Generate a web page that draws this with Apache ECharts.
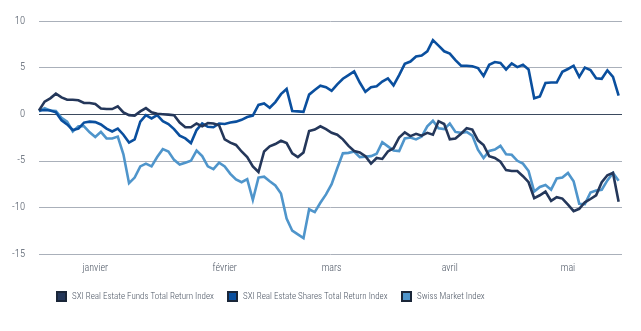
<!DOCTYPE html>
<html>
<head>
<meta charset="utf-8">
<script src="https://cdn.jsdelivr.net/npm/echarts@6/dist/echarts.min.js"></script>
<style>
  html, body { margin: 0; padding: 0; background: #fff; }
  #chart { width: 641px; height: 331px; }
</style>
</head>
<body>
<div id="chart"></div>
<script>
// Performance since start of year, in percent, one value per trading day
const fundsTR = [
  0.4, 1.35, 1.7, 2.2, 1.8, 1.55, 1.55, 1.5, 1.2, 1.2,
  1.1, 0.6, 0.55, 0.55, 0.85, 0.2, -0.1, -0.15, 0.3, 0.65,
  0.2, 0.05, 0, -0.05, -0.1, -0.9, -1.4, -1.4, -1.0, -1.3,
  -0.95, -1.0, -1.2, -2.7, -3.05, -3.3, -4.0, -4.6, -5.6, -6.2,
  -4.0, -3.45, -3.2, -2.85, -3.1, -4.2, -4.6, -4.1, -1.8, -1.65,
  -1.3, -1.6, -2.0, -2.2, -2.7, -3.4, -3.95, -4.1, -4.5, -5.3,
  -4.7, -4.8, -4.0, -3.65, -2.5, -1.95, -2.35, -2.1, -2.3, -2.0,
  -2.2, -0.75, -1.05, -2.7, -2.6, -2.1, -1.5, -1.65, -2.8, -3.3,
  -4.5, -4.7, -5.1, -6.0, -6.1, -6.1, -6.65, -7.3, -9.0, -8.7,
  -8.3, -9.3, -8.9, -9.05, -9.7, -10.4, -10.15, -9.45, -9.1, -8.7,
  -7.3, -6.55, -6.3, -9.4
];
const sharesTR = [
  0.4, 0.45, 0.4, 0.2, -0.65, -1.1, -1.7, -1.55, -0.9, -0.8,
  -0.85, -1.1, -1.55, -1.85, -1.55, -2.2, -3.05, -2.7, -0.8, -0.1,
  -0.45, -0.1, -0.75, -1.05, -1.6, -2.3, -2.6, -3.1, -1.7, -1.0,
  -1.35, -1.4, -1.0, -1.05, -0.9, -0.8, -0.6, -0.3, -0.15, 1.0,
  1.15, 0.7, 1.3, 2.15, 2.7, 0.35, 0.3, 0.25, 2.1, 2.6,
  3.05, 2.9, 2.5, 3.2, 3.8, 4.2, 4.6, 3.4, 2.4, 2.9,
  3.0, 3.5, 3.85, 3.1, 4.2, 5.4, 5.65, 6.2, 6.3, 6.75,
  7.95, 7.35, 6.75, 6.5, 5.8, 5.2, 5.2, 5.15, 4.95, 4.1,
  5.3, 5.6, 5.5, 4.8, 5.45, 5.05, 5.3, 4.8, 1.7, 1.9,
  3.35, 3.4, 3.4, 4.55, 4.85, 5.2, 4.0, 5.0, 4.75, 3.85,
  3.8, 4.7, 4.0, 2.0
];
const smi = [
  0.3, 0.65, 0.4, 0.35, -0.4, -0.8, -1.85, -1.3, -1.3, -1.95,
  -2.45, -1.9, -2.6, -2.6, -2.4, -4.3, -7.4, -6.8, -5.6, -5.3,
  -5.6, -4.6, -3.75, -4.0, -4.9, -5.4, -5.2, -5.0, -3.9, -4.5,
  -5.6, -5.9, -5.2, -5.6, -6.4, -7.0, -7.3, -6.97, -9.2, -6.8,
  -6.7, -7.2, -7.65, -8.5, -11.2, -12.5, -12.9, -13.3, -10.2, -10.5,
  -9.5, -8.6, -7.5, -5.8, -4.2, -4.15, -4.0, -4.6, -4.55, -4.5,
  -4.25, -3.0, -3.45, -3.9, -3.95, -2.6, -2.5, -2.7, -2.4, -1.3,
  -0.7, -1.5, -1.6, -1.0, -1.9, -2.0, -1.9, -2.3, -3.8, -4.7,
  -3.95, -3.8, -3.4, -4.3, -4.35, -5.0, -5.3, -6.1, -8.3, -7.8,
  -7.6, -8.1, -6.9, -6.8, -6.3, -7.2, -9.6, -9.65, -8.4, -8.2,
  -8.1, -7.1, -6.3, -7.15
];

// Month captions and the trading-day index each one sits on
const monthNames = ['janvier', 'février', 'mars', 'avril', 'mai'];
const monthTicks = [10, 33, 52, 73, 94];

const yTicks = { min: -15, max: 10, step: 5 };

const seriesNames = [
  'SXI Real Estate Funds Total Return Index',
  'SXI Real Estate Shares Total Return Index',
  'Swiss Market Index'
];
const seriesColors = ['#24375a', '#0a4f9e', '#4f95cb'];

const toPairs = arr => arr.map((v, i) => [i, v]);

const fontFamily = '"Roboto Condensed", "Liberation Sans Narrow", Roboto, sans-serif';
const textColor = '#4d5664';

const chart = echarts.init(document.getElementById('chart'), null, { renderer: 'canvas' });

const lineSeries = [fundsTR, sharesTR, smi].map((arr, k) => ({
  name: seriesNames[k],
  type: 'line',
  data: toPairs(arr),
  showSymbol: false,
  symbol: 'none',
  smooth: false,
  z: 3 + (2 - k),
  lineStyle: { width: 2.6, color: seriesColors[k], join: 'miter' },
  itemStyle: { color: seriesColors[k], borderColor: '#1a2638', borderWidth: 0.8 },
  emphasis: { disabled: true },
  markLine: k === 0 ? {
    silent: true,
    symbol: 'none',
    label: { show: false },
    lineStyle: { color: '#3b4a5e', width: 1.2, type: 'solid' },
    data: [{ yAxis: 0 }],
    z: 1
  } : undefined
}));

// One legend block per series so each entry keeps its own place along the row
const legendLeft = [51, 222, 396];
const legends = seriesNames.map((name, k) => ({
  left: legendLeft[k],
  top: 286,
  itemWidth: 9,
  itemHeight: 9,
  itemGap: 6,
  icon: 'rect',
  textStyle: { color: textColor, fontSize: 9, fontWeight: 300, fontFamily: fontFamily, padding: [0, 0, 0, 1] },
  data: [name]
}));

chart.setOption({
  animation: false,
  backgroundColor: '#ffffff',
  grid: { left: 39, right: 19, top: 21, bottom: 77, containLabel: false },
  legend: legends,
  xAxis: {
    type: 'value',
    min: 0,
    max: 103.6,
    axisLine: { show: false },
    axisTick: { show: false },
    splitLine: { show: false },
    axisLabel: {
      customValues: monthTicks,
      margin: 9,
      color: textColor,
      fontSize: 10,
      fontWeight: 300,
      fontFamily: fontFamily,
      formatter: v => monthNames[monthTicks.indexOf(Math.round(v))] || ''
    }
  },
  yAxis: {
    type: 'value',
    min: yTicks.min,
    max: yTicks.max,
    interval: yTicks.step,
    axisLine: { show: false },
    axisTick: { show: false },
    axisLabel: { margin: 14, color: textColor, fontSize: 10.5, fontWeight: 300, fontFamily: fontFamily },
    splitLine: { lineStyle: { color: '#aab0ba', width: 1 } }
  },
  series: lineSeries
});
</script>
</body>
</html>
